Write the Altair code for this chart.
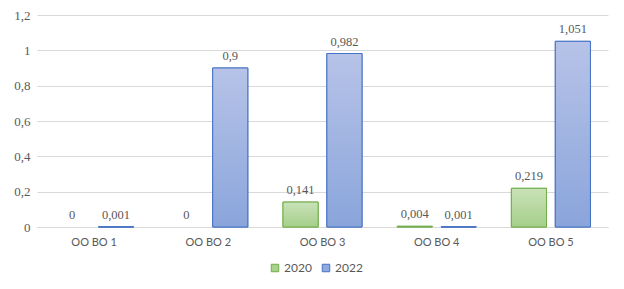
import altair as alt
import pandas as pd

categories = ["OO BO 1", "OO BO 2", "OO BO 3", "OO BO 4", "OO BO 5"]
years = ["2020", "2022"]
values_2020 = [0, 0, 0.141, 0.004, 0.219]
values_2022 = [0.001, 0.9, 0.982, 0.001, 1.051]
y_ticks = [0, 0.2, 0.4, 0.6, 0.8, 1.0, 1.2]

rows = []
for c, v in zip(categories, values_2020):
    rows.append({"cat": c, "year": "2020", "value": v})
for c, v in zip(categories, values_2022):
    rows.append({"cat": c, "year": "2022", "value": v})
df = pd.DataFrame(rows)

GRAY = "#595959"
SERIF = "Liberation Serif"
SANS = "Lato"

x_enc = alt.X("cat:N", sort=categories, title=None,
              scale=alt.Scale(paddingInner=0.308, paddingOuter=0.154),
              axis=alt.Axis(labelAngle=0, labelFont=SANS, labelFontSize=11,
                            labelColor=GRAY, domainColor="#d9d9d9", ticks=False,
                            labelPadding=9))
xo_enc = alt.XOffset("year:N", sort=years,
                     scale=alt.Scale(domain=years, paddingInner=0.2, paddingOuter=0))
y_enc = alt.Y("value:Q", title=None,
              scale=alt.Scale(domain=[0, 1.2], nice=False),
              axis=alt.Axis(values=y_ticks, domain=False, ticks=False,
                            labelFont=SERIF, labelFontSize=13, labelColor=GRAY,
                            labelPadding=7, gridColor="#d9d9d9",
                            labelExpr="replace(toString(datum.value), '.', ',')"))

base = alt.Chart(df)

legend_layer = base.transform_filter("datum.value > 0").mark_bar(strokeWidth=1).encode(
    x=x_enc, xOffset=xo_enc, y=y_enc,
    color=alt.Color("year:N", sort=years, title=None,
                    scale=alt.Scale(domain=years, range=["#a9d18e", "#8faadc"]),
                    legend=alt.Legend(orient="none", legendX=232, legendY=247,
                                      direction="horizontal", symbolType="square",
                                      symbolSize=56, symbolStrokeWidth=1,
                                      labelFont=SANS, labelFontSize=12,
                                      labelColor=GRAY, columnPadding=8,
                                      labelOffset=3)),
    stroke=alt.Stroke("year:N", sort=years,
                      scale=alt.Scale(domain=years, range=["#70ad47", "#4472c4"]),
                      legend=None),
)

green_grad = alt.Gradient(gradient="linear", x1=0, y1=0, x2=0, y2=1,
                          stops=[alt.GradientStop(color="#c9e2b8", offset=0),
                                 alt.GradientStop(color="#a5cf8a", offset=1)])
blue_grad = alt.Gradient(gradient="linear", x1=0, y1=0, x2=0, y2=1,
                         stops=[alt.GradientStop(color="#b7c3e8", offset=0),
                                alt.GradientStop(color="#8aa5db", offset=1)])

g_layer = base.transform_filter("datum.year == '2020' && datum.value > 0").mark_bar(
    fill=green_grad, stroke="#70ad47", strokeWidth=1).encode(
    x=x_enc, xOffset=xo_enc, y=y_enc)
b_layer = base.transform_filter("datum.year == '2022' && datum.value > 0").mark_bar(
    fill=blue_grad, stroke="#4472c4", strokeWidth=1).encode(
    x=x_enc, xOffset=xo_enc, y=y_enc)

labels = base.transform_calculate(
    lbl="replace(toString(datum.value), '.', ',')"
).mark_text(baseline="bottom", dy=-5, font=SERIF, fontSize=12.5, color=GRAY).encode(
    x=x_enc, xOffset=xo_enc, y=y_enc, text="lbl:N")

chart = alt.layer(legend_layer, g_layer, b_layer, labels).properties(
    width=571, height=212,
    autosize=alt.AutoSizeParams(type="none"),
    padding={"left": 37, "top": 15, "right": 16, "bottom": 62},
    background="white",
).configure_view(stroke=None)

chart.save("out.html", embed_options={"renderer": "svg", "actions": False})
